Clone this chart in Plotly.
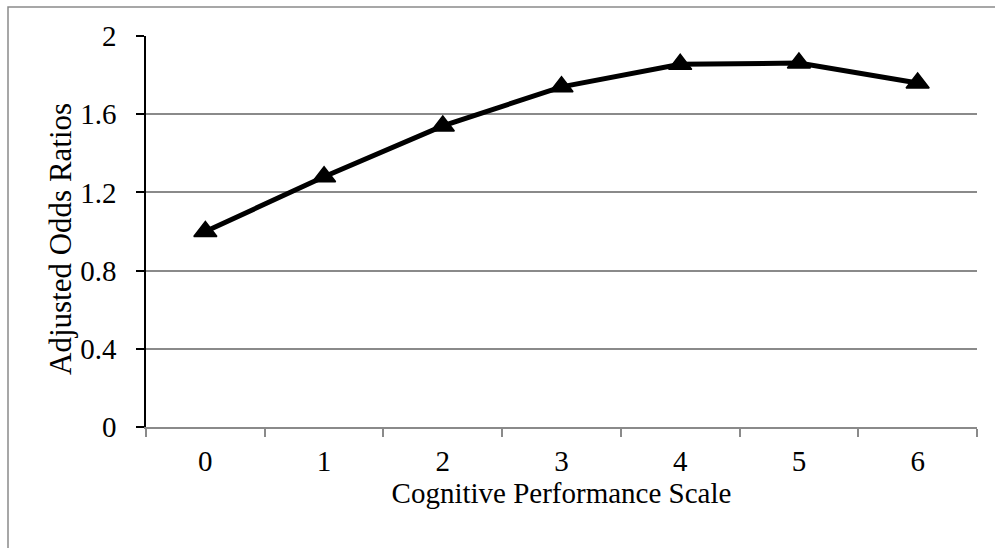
import plotly.graph_objects as go

categories = ["0", "1", "2", "3", "4", "5", "6"]
odds_ratios = [1.00, 1.28, 1.54, 1.74, 1.855, 1.862, 1.76]
y_ticks = [0, 0.4, 0.8, 1.2, 1.6, 2]
y_tick_labels = ["0", "0.4", "0.8", "1.2", "1.6", "2"]
x_title = "Cognitive Performance Scale"
y_title = "Adjusted Odds Ratios"

W, H = 995, 548
L, R, T, B = 146, 18, 36, 121
pw, ph = W - L - R, H - T - B

FONT = "Liberation Serif"
FS = 29
GRID = "#8a8a8a"

fig = go.Figure(
    go.Scatter(
        x=categories,
        y=odds_ratios,
        mode="lines+markers",
        line=dict(color="black", width=5),
        marker=dict(symbol="triangle-up", size=20, color="black",
                    line=dict(color="black", width=1.5)),
        cliponaxis=False,
    )
)

fig.update_layout(
    width=W, height=H,
    margin=dict(l=L, r=R, t=T, b=B, pad=0),
    paper_bgcolor="white", plot_bgcolor="white",
    font=dict(family=FONT, size=FS, color="black"),
    showlegend=False,
)

fig.update_xaxes(
    type="category",
    range=[-0.5, 6.5],
    tickson="boundaries",
    ticks="outside", ticklen=8, tickwidth=1.5, tickcolor=GRID,
    showline=True, linecolor=GRID, linewidth=1.5,
    showgrid=False, zeroline=False,
    tickfont=dict(family=FONT, size=FS),
    ticklabelstandoff=7,
    title=dict(text=x_title, standoff=6, font=dict(family=FONT, size=FS)),
    automargin=False,
)

fig.update_yaxes(
    range=[0, 2],
    tickvals=y_ticks, ticktext=y_tick_labels,
    ticks="outside", ticklen=8, tickwidth=1.5, tickcolor="black",
    showline=True, linecolor="black", linewidth=1.5,
    showgrid=True, gridcolor=GRID, gridwidth=1.5,
    zeroline=False,
    tickfont=dict(family=FONT, size=FS),
    ticklabelstandoff=14,
    automargin=False,
)

# y-axis title placed like the Excel original (slightly below plot centre)
fig.add_annotation(
    text=y_title, textangle=-90, showarrow=False,
    xref="paper", yref="paper",
    x=(60 - L) / pw, y=1 - (239 - T) / ph,
    xanchor="center", yanchor="middle",
    font=dict(family=FONT, size=31, color="black"),
)

# outer chart border (Excel chart area), extending past the right/bottom edges
fig.add_shape(
    type="rect", xref="paper", yref="paper",
    x0=(8 - L) / pw, x1=(W + 5 - L) / pw,
    y0=-(H + 5 - T - ph) / ph, y1=1 + (T - 7) / ph,
    line=dict(color="#8a8a8a", width=1.5), fillcolor="rgba(0,0,0,0)",
    layer="below",
)

fig.write_html("out.html")
